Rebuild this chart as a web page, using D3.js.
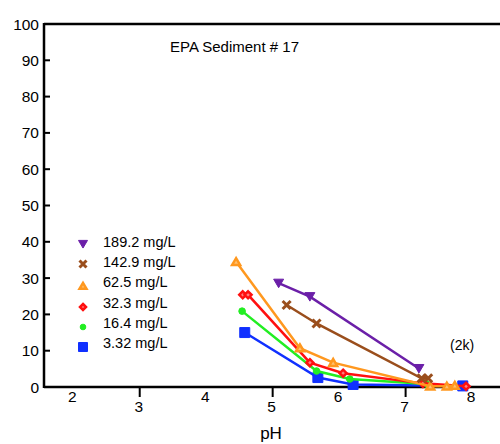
<!DOCTYPE html>
<html>
<head>
<meta charset="utf-8">
<script src="https://cdn.jsdelivr.net/npm/d3@7"></script>
<style>
  body { margin: 0; background: #fff; }
  text { font-family: "Liberation Sans", Arial, sans-serif; }
</style>
</head>
<body>
<div id="chart"></div>
<script>
// series (pH, value)
const seriesNames = ["189.2 mg/L", "142.9 mg/L", "62.5 mg/L", "32.3 mg/L", "16.4 mg/L", "3.32 mg/L"];
const seriesColors = ["#6B1FA8", "#9A4E1C", "#FF981F", "#FF1010", "#22EE22", "#1030FF"];
const seriesShapes = ["tridown", "cross", "triup", "diamond", "circle", "square"];

const pts189 = [[5.09, 28.6], [5.56, 24.9], [7.20, 5.1]];
const pts142 = [[5.21, 22.6], [5.66, 17.5], [7.24, 2.4], [7.34, 2.4]];
const pts62 = [[4.45, 34.5], [5.41, 10.7], [5.91, 6.7], [7.37, 0.2], [7.62, 0.2], [7.74, 0.4]];
const pts32 = [[4.55, 25.4], [4.63, 25.4], [5.56, 6.7], [6.06, 3.8], [7.26, 1.0], [7.91, 0.2]];
const pts16 = [[4.54, 20.9], [5.66, 4.4], [6.16, 2.2], [7.31, 0.8]];
const pts3 = [[4.58, 15.0], [5.68, 2.6], [6.21, 0.7], [7.86, 0.3]];
const allSeries = [pts189, pts142, pts62, pts32, pts16, pts3];

const xTicks = [2, 3, 4, 5, 6, 7, 8];
const yTicks = [0, 10, 20, 30, 40, 50, 60, 70, 80, 90, 100];

const W = 500, H = 444;
const svg = d3.select("#chart").append("svg")
    .attr("width", W)
    .attr("height", H);

const x = d3.scaleLinear().domain([1.56, 8.42]).range([44, 500]);
const y = d3.scaleLinear().domain([0, 100]).range([387, 24]);

// frame lines
svg.append("line")
    .attr("x1", 44).attr("x2", W)
    .attr("y1", y(100)).attr("y2", y(100))
    .attr("stroke", "#000").attr("stroke-width", 2.5);
svg.append("line")
    .attr("x1", 44).attr("x2", W)
    .attr("y1", y(0)).attr("y2", y(0))
    .attr("stroke", "#000").attr("stroke-width", 2.5);
svg.append("line")
    .attr("x1", 44).attr("x2", 44)
    .attr("y1", y(100) - 1).attr("y2", y(0) + 1)
    .attr("stroke", "#000").attr("stroke-width", 2.5);

// y ticks (inside) and labels
svg.append("g").selectAll("line")
    .data(yTicks.filter(d => d > 0 && d < 100))
    .enter().append("line")
    .attr("x1", 44).attr("x2", 50)
    .attr("y1", d => y(d)).attr("y2", d => y(d))
    .attr("stroke", "#000").attr("stroke-width", 2);
svg.append("g").selectAll("text")
    .data(yTicks)
    .enter().append("text")
    .attr("x", 39)
    .attr("y", d => y(d))
    .attr("dy", "0.36em")
    .attr("text-anchor", "end")
    .attr("font-size", 15.5)
    .text(d => d);

// x ticks: odd values have a tick going down, labels staggered
svg.append("g").selectAll("line")
    .data(xTicks.filter(d => d % 2 === 1))
    .enter().append("line")
    .attr("x1", d => x(d)).attr("x2", d => x(d))
    .attr("y1", y(0)).attr("y2", y(0) + 10)
    .attr("stroke", "#000").attr("stroke-width", 2);
svg.append("g").selectAll("text")
    .data(xTicks)
    .enter().append("text")
    .attr("x", d => x(d) - 1)
    .attr("y", d => d % 2 === 1 ? 412 : 402)
    .attr("text-anchor", "middle")
    .attr("font-size", 15.5)
    .text(d => d);

svg.append("text")
    .attr("x", 271).attr("y", 439)
    .attr("text-anchor", "middle")
    .attr("font-size", 17)
    .text("pH");

svg.append("text")
    .attr("x", 170).attr("y", 52)
    .attr("font-size", 15)
    .text("EPA Sediment # 17");

svg.append("text")
    .attr("x", 450).attr("y", 350)
    .attr("font-size", 14)
    .text("(2k)");

function symbolPath(shape, size) {
    const s = size / 2;
    if (shape === "tridown") return `M${-s},${-s * 0.8}L${s},${-s * 0.8}L0,${s * 0.9}Z`;
    if (shape === "triup") return `M${-s},${s * 0.8}L${s},${s * 0.8}L0,${-s * 0.9}Z`;
    if (shape === "square") return `M${-s},${-s}H${s}V${s}H${-s}Z`;
    if (shape === "diamond") return `M0,${-s}L${s},0L0,${s}L${-s},0Z`;
    if (shape === "circle") return d3.symbol().type(d3.symbolCircle).size(size * size * 0.7)();
    return `M${-s},${-s}L${s},${s}M${s},${-s}L${-s},${s}`;
}

function drawMarker(g, shape, color, size) {
    const p = g.append("path").attr("d", symbolPath(shape, size));
    if (shape === "cross") {
        p.attr("fill", "none").attr("stroke", color).attr("stroke-width", 3);
    } else if (shape === "triup" || shape === "diamond") {
        p.attr("fill", shape === "triup" ? "#FFC070" : "#FF8080")
            .attr("stroke", color).attr("stroke-width", 2.5);
    } else {
        p.attr("fill", color).attr("stroke", color).attr("stroke-width", 1);
    }
}

const line = d3.line().x(d => x(d[0])).y(d => y(d[1]));
const sizes = [10, 8, 8, 7, 7, 10];

// draw from the last series to the first so purple ends on top
allSeries.map((pts, i) => i).reverse().forEach(i => {
    const pts = allSeries[i];
    svg.append("path")
        .attr("d", line(pts))
        .attr("fill", "none")
        .attr("stroke", seriesColors[i])
        .attr("stroke-width", 2.5);
    pts.forEach(p => {
        const g = svg.append("g").attr("transform", `translate(${x(p[0])},${y(p[1])})`);
        drawMarker(g, seriesShapes[i], seriesColors[i], sizes[i]);
    });
});

// legend
const legendTextY = [242, 262, 282, 303, 323, 343];
const legendMarkY = [244, 264, 286, 307, 327, 347];
seriesNames.forEach((name, i) => {
    const g = svg.append("g").attr("transform", `translate(83,${legendMarkY[i]})`);
    drawMarker(g, seriesShapes[i], seriesColors[i], sizes[i] - 1);
    svg.append("text")
        .attr("x", 103).attr("y", legendTextY[i])
        .attr("dy", "0.36em")
        .attr("font-size", 14.5)
        .text(name);
});
</script>
</body>
</html>
